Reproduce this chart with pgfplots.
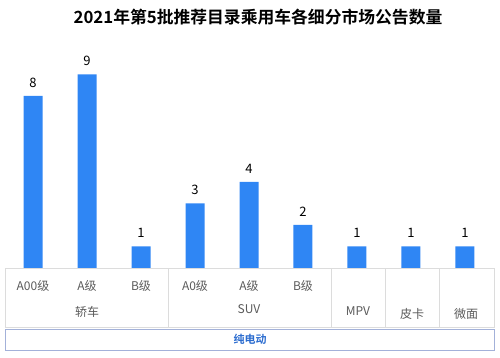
\documentclass[border=0pt]{standalone}
\usepackage{pgfplots}
\pgfplotsset{compat=1.18}
\usepackage{fontspec}
\setmainfont{Noto Sans CJK SC}
\newfontfamily\cjkb{Noto Sans CJK SC Bold}
\definecolor{barblue}{HTML}{2F86F4}
\definecolor{boxgray}{HTML}{DCDCDC}
\definecolor{labgray}{HTML}{5A5A5A}
\definecolor{boxblue}{HTML}{A3B1D9}
\definecolor{txtblue}{HTML}{2B6CCF}
\begin{document}
\begin{tikzpicture}[x=1pt,y=1pt]
\path[use as bounding box] (0,0) rectangle (500,357);
\begin{axis}[
  at={(5pt,89pt)}, anchor=south west,
  scale only axis, width=488pt, height=228pt,
  xmin=-0.52, xmax=8.52, ymin=0, ymax=10.6,
  hide axis, clip=false,
  ybar, bar width=19pt,
  /pgf/number format/assume math mode=true,
  nodes near coords,
  every node near coord/.append style={font=\fontsize{13}{14}\selectfont, text=black, yshift=5pt},
]
\addplot[fill=barblue, draw=none] coordinates {(0,8) (1,9) (2,1) (3,3) (4,4) (5,2) (6,1) (7,1) (8,1)};
\end{axis}
% title
\node[font=\cjkb\fontsize{16.8}{18}\selectfont] at (258,340) {2021年第5批推荐目录乘用车各细分市场公告数量};
% category box
\draw[boxgray, line width=0.7pt] (5,89) rectangle (494,30);
\foreach \x in {168,331,385,439} \draw[boxgray, line width=0.7pt] (\x,89) -- (\x,30);
\begin{scope}[every node/.style={font=\fontsize{12}{14}\selectfont, text=labgray}]
\node at (33,71) {A00级};
\node at (87,71) {A级};
\node at (141,71) {B级};
\node at (195,71) {A0级};
\node at (249,71) {A级};
\node at (303,71) {B级};
\node at (87,45) {轿车};
\node at (249,48) {SUV};
\node at (358,46) {MPV};
\node at (412,43) {皮卡};
\node at (466,43) {微面};
\end{scope}
\draw[boxblue, line width=0.8pt] (5,28) rectangle (494,7);
\node[font=\cjkb\fontsize{11}{12}\selectfont, text=txtblue] at (250,17.5) {纯电动};
\end{tikzpicture}
\end{document}
